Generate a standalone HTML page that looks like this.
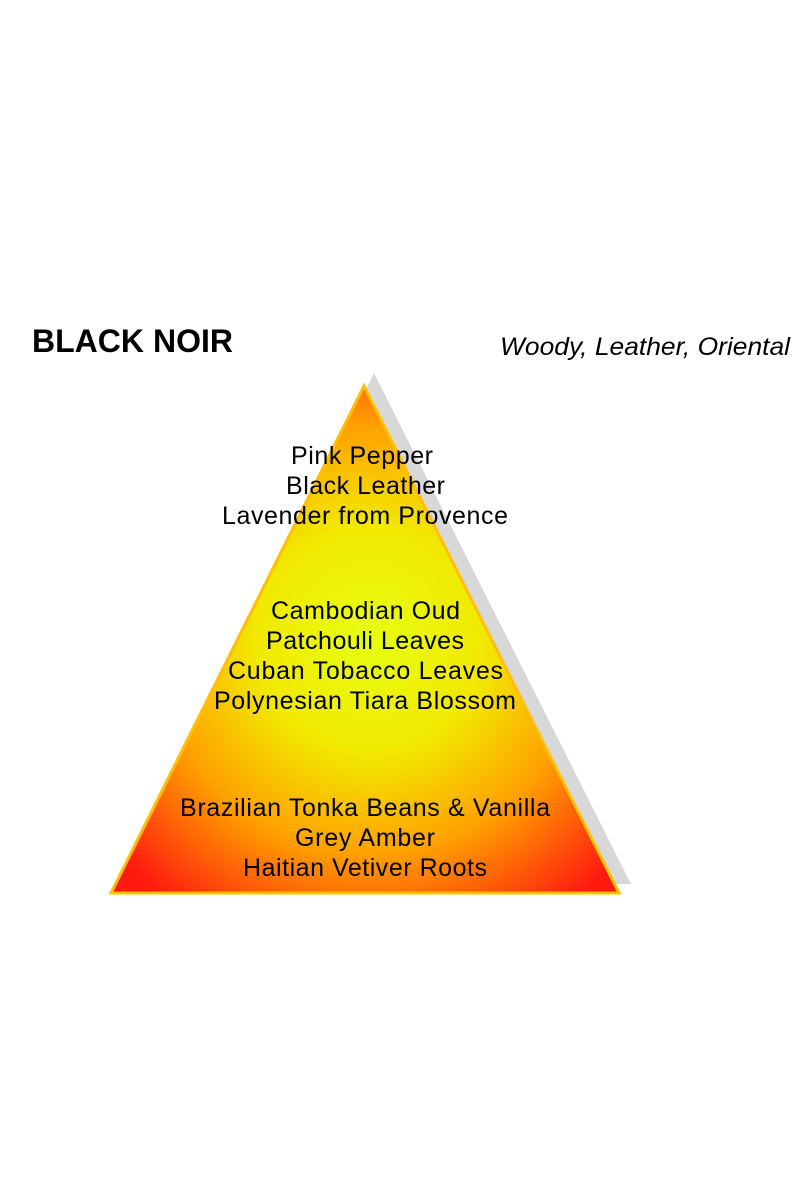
<!DOCTYPE html>
<html><head><style>
body{margin:0;background:#fff;width:800px;height:1200px;overflow:hidden}
svg{position:absolute;left:0;top:0}
</style></head><body>
<svg width="800" height="1200" viewBox="0 0 800 1200">
<defs>
<radialGradient id="g" cx="370" cy="640" r="330" gradientUnits="userSpaceOnUse">
<stop offset="0" stop-color="#e6ff10"/>
<stop offset="0.35" stop-color="#f2e800"/>
<stop offset="0.65" stop-color="#ffa000"/>
<stop offset="1" stop-color="#ff1a10"/>
</radialGradient>
</defs>
<polygon points="374,373 631,884 120,884" fill="#d8d8d8"/>
<polygon points="364,386 619,893 111,893" fill="url(#g)" stroke="#ffc000" stroke-width="3"/>
<g font-family="Liberation Sans, sans-serif" fill="#000">
<text x="32" y="352" font-size="32" font-weight="bold" textLength="201" lengthAdjust="spacingAndGlyphs">BLACK NOIR</text>
<text x="500" y="355" font-size="25" font-style="italic" textLength="290" lengthAdjust="spacingAndGlyphs">Woody, Leather, Oriental</text>
<g font-size="25" lengthAdjust="spacingAndGlyphs">
<text x="291" y="464" textLength="142">Pink Pepper</text>
<text x="286" y="494" textLength="159">Black Leather</text>
<text x="222" y="524" textLength="286">Lavender from Provence</text>
<text x="271" y="619" textLength="189">Cambodian Oud</text>
<text x="266" y="649" textLength="198">Patchouli Leaves</text>
<text x="228" y="679" textLength="275">Cuban Tobacco Leaves</text>
<text x="214" y="709" textLength="302">Polynesian Tiara Blossom</text>
<text x="180" y="816" textLength="370">Brazilian Tonka Beans &amp; Vanilla</text>
<text x="295" y="846" textLength="140">Grey Amber</text>
<text x="243" y="876" textLength="244">Haitian Vetiver Roots</text>
</g>
</g>
</svg>
</body></html>
